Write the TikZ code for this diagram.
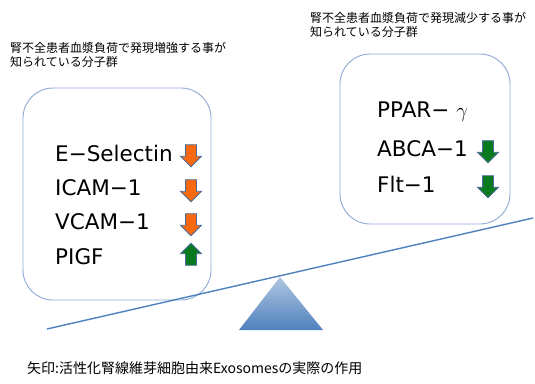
\documentclass[tikz,border=0pt]{standalone}
\usepackage{fontspec}
\setmainfont{Noto Sans CJK JP}
\newfontfamily\molfont{DejaVu Sans}
\usepackage{tikz}
\usetikzlibrary{shapes.arrows, positioning}

\definecolor{boxline}{HTML}{8EA9D5}
\definecolor{beamblue}{HTML}{4F81BD}
\definecolor{uporange}{HTML}{F96A10}
\definecolor{dngreen}{HTML}{0A7A1E}
\definecolor{arrline}{HTML}{4A6A9A}

\tikzset{
  mol/.style={anchor=west, font=\molfont\fontsize{21.5}{24}\selectfont, inner sep=0pt},
  note/.style={anchor=west, align=left, font=\fontsize{12}{14}\selectfont, inner sep=0pt},
  blockarr/.style={single arrow, draw=arrline, line width=0.8pt, fill=#1,
    minimum height=22pt, single arrow head extend=5pt, inner sep=5pt},
  downarr/.style={blockarr=#1, shape border rotate=270},
  uparr/.style={blockarr=#1, shape border rotate=90},
  groupbox/.style={draw=boxline, line width=0.9pt, rounded corners=30pt}
}

\begin{document}
\begin{tikzpicture}[x=1pt, y=-1pt]
      \useasboundingbox (0,0) rectangle (535,383);
      \node[note] (upnote) at (10,55) {腎不全患者血漿負荷で発現増強する事が\\知られている分子群};
      \node[note] (dnnote) at (310,25) {腎不全患者血漿負荷で発現減少する事が\\知られている分子群};
      \draw[groupbox] (23,88) rectangle (211,300);
      \draw[groupbox] (340,54) rectangle (510,224);
      \node[mol] (esel) at (55,153) {E−Selectin};
      \node[mol] (icam) at (55,188) {ICAM−1};
      \node[mol] (vcam) at (55,222) {VCAM−1};
      \node[mol] (pigf) at (55,257) {PIGF};
      \node[downarr=uporange] (esel-a) at (191,153) {};
      \node[downarr=uporange] (icam-a) at (191,188) {};
      \node[downarr=uporange] (vcam-a) at (191,222) {};
      \node[uparr=dngreen] (pigf-a) at (191,257) {};
      \node[mol] (ppar) at (377,112) {PPAR− $\gamma$};
      \node[mol] (abca) at (377,149) {ABCA−1};
      \node[mol] (flt) at (377,184) {Flt−1};
      \node[downarr=dngreen] (abca-a) at (488,149) {};
      \node[downarr=dngreen] (flt-a) at (488,184) {};
      \coordinate (beam-l) at (47,329);
      \coordinate (beam-r) at (533,218);
      \draw[beamblue, line width=1.4pt] (beam-l) -- (beam-r);
      \shade[top color=beamblue!45, bottom color=beamblue] (280,277) -- (323,330) -- (239,330) -- cycle;
      \node[note, font=\fontsize{14}{16}\selectfont] (caption) at (27,368) {矢印:活性化腎線維芽細胞由来Exosomesの実際の作用};
    \end{tikzpicture}
\end{document}
